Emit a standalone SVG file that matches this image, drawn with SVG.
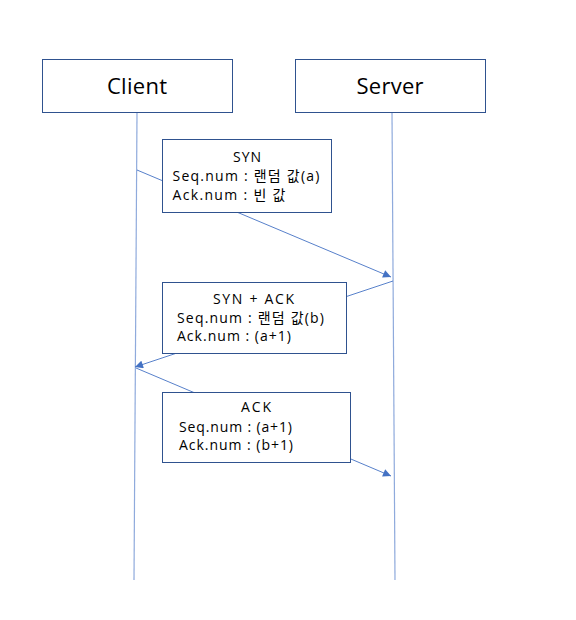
<svg xmlns="http://www.w3.org/2000/svg" width="576" height="620" viewBox="0 0 576 620">
<style>
.actor{fill:#fff;stroke:#2f528f;stroke-width:1}
.msg{fill:#fff;stroke:#2f528f;stroke-width:1}
.life{stroke:#8faadc;stroke-width:1.2;fill:none}
.arrow{stroke:#4472c4;stroke-width:0.9;fill:none;marker-end:url(#ah)}
.t{font-family:"Open Sans","Noto Sans CJK KR",sans-serif;fill:#000}
.big{font-size:22px}
.sm{font-size:14px}
</style>
<defs>
<marker id="ah" viewBox="0 0 10 10" refX="10" refY="5" markerWidth="10" markerHeight="8" markerUnits="userSpaceOnUse" orient="auto">
<path d="M0,0 L10,5 L0,10 z" fill="#4472c4"/>
</marker>
</defs>
<g id="lifelines">
<line class="life" x1="137" y1="113" x2="134" y2="580"/>
<line class="life" x1="392" y1="113" x2="395" y2="580"/>
</g>
<g id="connectors">
<line class="arrow" x1="137" y1="170" x2="391" y2="277"/>
<line class="arrow" x1="393" y1="281" x2="135" y2="367"/>
<line class="arrow" x1="136" y1="368" x2="391" y2="476"/>
</g>
<g id="client">
<rect class="actor" x="42.5" y="59.5" width="190" height="53"/>
<text class="t big" x="137" y="94" text-anchor="middle" textLength="60">Client</text>
</g>
<g id="server">
<rect class="actor" x="295.5" y="59.5" width="190" height="53"/>
<text class="t big" x="390" y="94" text-anchor="middle" textLength="67">Server</text>
</g>
<g id="syn">
<rect class="msg" x="162.5" y="139.5" width="169" height="73"/>
<text class="t sm" x="247" y="162" text-anchor="middle" textLength="28">SYN</text>
<text class="t sm" x="172.5" y="181" textLength="147">Seq.num : 랜덤 값(a)</text>
<text class="t sm" x="172.5" y="200" textLength="113">Ack.num : 빈 값</text>
</g>
<g id="synack">
<rect class="msg" x="162.5" y="282.5" width="184" height="71"/>
<text class="t sm" x="253.5" y="304" text-anchor="middle" textLength="81">SYN + ACK</text>
<text class="t sm" x="177" y="323" textLength="147">Seq.num : 랜덤 값(b)</text>
<text class="t sm" x="177" y="341" textLength="114">Ack.num : (a+1)</text>
</g>
<g id="ack">
<rect class="msg" x="162.5" y="392.5" width="188" height="70"/>
<text class="t sm" x="256" y="412" text-anchor="middle" textLength="30">ACK</text>
<text class="t sm" x="179" y="432" textLength="113">Seq.num : (a+1)</text>
<text class="t sm" x="179" y="450" textLength="114">Ack.num : (b+1)</text>
</g>
</svg>
